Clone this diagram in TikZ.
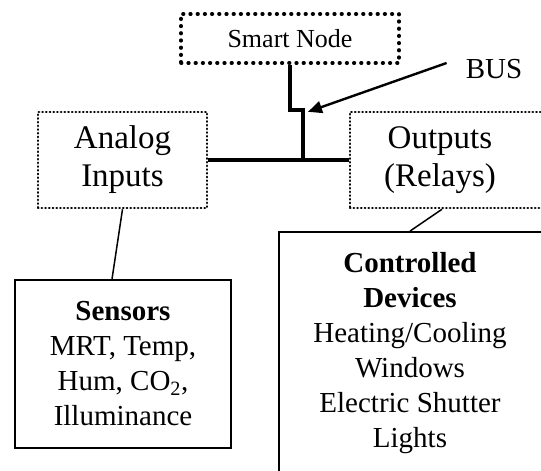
\documentclass[tikz,border=0pt]{standalone}
\usepackage{fontspec}
\setmainfont{Liberation Serif}
\usetikzlibrary{arrows.meta,calc}

\tikzset{
  coarsedots/.style={draw, line width=3.6pt, line cap=round,
    dash pattern=on 0.6pt off 6.6pt, inner sep=0pt},
  finedots/.style={draw, line width=2.5pt, line cap=round,
    dash pattern=on 0.4pt off 3.3pt, inner sep=0pt},
  solidbox/.style={draw, line width=1.8pt, inner sep=0pt},
  bigtext/.style={font=\fontsize{33}{38}\selectfont, align=center, inner sep=0pt},
  bodytext/.style={font=\fontsize{29}{35}\selectfont, align=center, inner sep=0pt},
  busline/.style={line width=4pt},
  thinline/.style={line width=1.5pt},
  pointer/.style={line width=2.4pt, -{Triangle[length=14pt,width=12pt]}}
}

\begin{document}
\begin{tikzpicture}[x=1pt,y=-1pt]
\useasboundingbox (0,0) rectangle (541,471);
\clip (0,0) rectangle (541,471);

% controller and I/O modules
\node[coarsedots, minimum width=218pt, minimum height=49pt,
      font=\fontsize{26}{30}\selectfont] (smart) at (290,38.5) {Smart Node};
\node[finedots, bigtext, minimum width=169pt, minimum height=96pt]
      (analog) at (122.5,160) {Analog\\Inputs};
\node[finedots, minimum width=210pt, minimum height=96pt] (outputs) at (455,160) {};
\node[bigtext] (outtext) at (440,160) {Outputs\\(Relays)};

% field devices
\node[solidbox, bodytext, minimum width=216pt, minimum height=168pt]
      (sensors) at (123,364)
      {\textbf{Sensors}\\MRT, Temp,\\Hum, CO\textsubscript{2},\\Illuminance};
\node[solidbox, minimum width=300pt, minimum height=260pt] (devices) at (429,362) {};
\node[bodytext, anchor=north] (devtext) at (410,252)
      {\textbf{Controlled}\\\textbf{Devices}\\Heating/Cooling\\Windows\\Electric Shutter\\Lights};

\node[font=\fontsize{29}{34}\selectfont, inner sep=0pt] (bus) at (494,69) {BUS};

% bus wiring
\draw[busline] (smart.south) -- ++(0,45) -- ++(13,0) coordinate (tee)
      -- (tee |- analog.east);
\draw[busline] (analog.east) -- (outputs.west);
\draw[pointer] ($(bus.west)+(-19,-6)$) -- ($(tee)+(5,2)$);

% module to device links
\draw[thinline] (analog.south) -- ($(sensors.north)+(-11,0)$);
\draw[thinline] ($(outputs.south)+(-13,0)$) -- ($(devices.north)+(-19,0)$);
\end{tikzpicture}
\end{document}
